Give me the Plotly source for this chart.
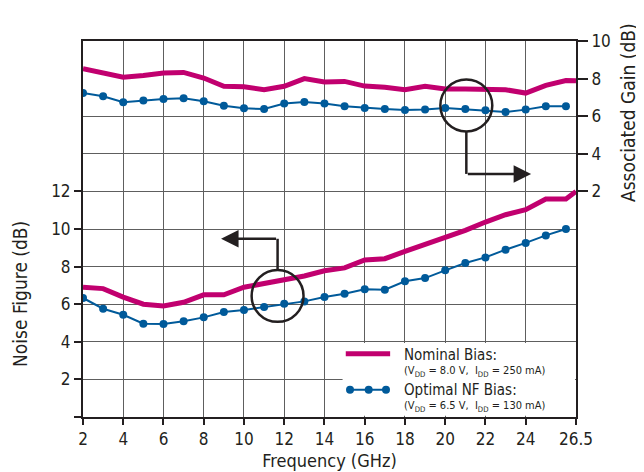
import plotly.graph_objects as go

# ---- data ----
freq = [2, 3, 4, 5, 6, 7, 8, 9, 10, 11, 12, 13, 14, 15, 16, 17, 18, 19, 20, 21, 22, 23, 24, 25, 26]
freq_nominal = freq + [26.5]

nf_nominal = [6.9, 6.83, 6.38, 6.0, 5.9, 6.1, 6.5, 6.5, 6.9, 7.1, 7.27, 7.5, 7.78, 7.93, 8.35,
              8.42, 8.81, 9.17, 9.52, 9.93, 10.37, 10.76, 11.03, 11.6, 11.6, 12.0]
nf_optimal = [6.33, 5.76, 5.44, 4.96, 4.95, 5.09, 5.3, 5.59, 5.69, 5.85, 6.03, 6.15, 6.38, 6.56,
              6.8, 6.77, 7.22, 7.39, 7.8, 8.19, 8.49, 8.9, 9.26, 9.66, 10.0]
gain_nominal = [8.53, 8.3, 8.07, 8.17, 8.3, 8.33, 8.03, 7.59, 7.57, 7.41, 7.59, 8.0, 7.82, 7.85,
                7.6, 7.54, 7.41, 7.59, 7.45, 7.45, 7.45, 7.41, 7.23, 7.64, 7.9, 7.89]
gain_optimal = [7.23, 7.06, 6.74, 6.84, 6.91, 6.95, 6.79, 6.56, 6.42, 6.38, 6.67, 6.76, 6.67, 6.53,
                6.44, 6.38, 6.33, 6.35, 6.44, 6.38, 6.31, 6.22, 6.35, 6.53, 6.53]

x_ticks = [2, 4, 6, 8, 10, 12, 14, 16, 18, 20, 22, 24, 26.5]
x_ticktext = ["2", "4", "6", "8", "10", "12", "14", "16", "18", "20", "22", "24", "26.5"]
nf_ticks = [0, 2, 4, 6, 8, 10, 12]
nf_ticktext = ["", "2", "4", "6", "8", "10", "12"]
gain_ticks = [2, 4, 6, 8, 10]

legend_names = ["Nominal Bias:", "Optimal NF Bias:"]
legend_notes = ["(V<sub>DD</sub> = 8.0 V,  I<sub>DD</sub> = 250 mA)",
                "(V<sub>DD</sub> = 6.5 V,  I<sub>DD</sub> = 130 mA)"]

PINK = "#c1006f"
BLUE = "#005a9a"
INK = "#231f20"
GRID = "#5e5e5e"
FONT = "Liberation Sans Narrow, DejaVu Sans Condensed, Arial Narrow, sans-serif"

fig = go.Figure()

fig.add_trace(go.Scatter(x=freq_nominal, y=nf_nominal, mode="lines",
                         line=dict(color=PINK, width=5), showlegend=False))
fig.add_trace(go.Scatter(x=freq, y=nf_optimal, mode="lines+markers",
                         line=dict(color=BLUE, width=2),
                         marker=dict(color=BLUE, size=8), showlegend=False))
fig.add_trace(go.Scatter(x=freq_nominal, y=gain_nominal, mode="lines", yaxis="y2",
                         line=dict(color=PINK, width=5), showlegend=False))
fig.add_trace(go.Scatter(x=freq, y=gain_optimal, mode="lines+markers", yaxis="y2",
                         line=dict(color=BLUE, width=2),
                         marker=dict(color=BLUE, size=8), showlegend=False))

shapes = []
# legend background box
shapes.append(dict(type="rect", xref="x", yref="y", x0=14.9, x1=26.45, y0=0.06, y1=3.93,
                   fillcolor="white", line=dict(width=0), layer="between"))
# legend glyphs
shapes.append(dict(type="line", xref="paper", yref="paper", x0=0.533, x1=0.623, y0=0.168, y1=0.168,
                   line=dict(color=PINK, width=5)))
shapes.append(dict(type="line", xref="paper", yref="paper", x0=0.5416, x1=0.6146, y0=0.0726, y1=0.0726,
                   line=dict(color=BLUE, width=2)))
for px in [0.5416, 0.5795, 0.6146]:
    shapes.append(dict(type="circle", xref="paper", yref="paper", xsizemode="pixel", ysizemode="pixel",
                       xanchor=px, yanchor=0.0726, x0=-4, x1=4, y0=-4, y1=4,
                       fillcolor=BLUE, line=dict(width=0)))
# callout circles
shapes.append(dict(type="circle", xref="x", yref="y", x0=21.05 - 1.29, x1=21.05 + 1.29,
                   y0=16.57 - 1.38, y1=16.57 + 1.38, line=dict(color=INK, width=2.5)))
shapes.append(dict(type="circle", xref="x", yref="y", x0=11.67 - 1.29, x1=11.67 + 1.29,
                   y0=6.44 - 1.38, y1=6.44 + 1.38, line=dict(color=INK, width=2.5)))
# callout leaders (vertical parts)
shapes.append(dict(type="line", xref="x", yref="y", x0=21.05, x1=21.05, y0=15.19, y1=12.93,
                   line=dict(color=INK, width=2.5)))
shapes.append(dict(type="line", xref="x", yref="y", x0=11.67, x1=11.67, y0=7.82, y1=9.48,
                   line=dict(color=INK, width=2.5)))

annotations = []
annotations.append(dict(x=24.27, y=12.93, ax=21.05, ay=12.93, xref="x", yref="y", axref="x", ayref="y",
                        text="", showarrow=True, arrowhead=2, arrowsize=1.4, arrowwidth=2.5,
                        arrowcolor=INK, standoff=0))
annotations.append(dict(x=8.86, y=9.48, ax=11.67, ay=9.48, xref="x", yref="y", axref="x", ayref="y",
                        text="", showarrow=True, arrowhead=2, arrowsize=1.4, arrowwidth=2.5,
                        arrowcolor=INK, standoff=0))
# legend text (one block per entry: name + bias note)
for name, note, ypos in zip(legend_names, legend_notes, [0.146, 0.052]):
    annotations.append(dict(x=0.647, y=ypos, xref="paper", yref="paper", xanchor="left", yanchor="middle",
                            align="left", showarrow=False,
                            text=f"<span style='font-size:15px'>{name}</span><br>{note}",
                            font=dict(family=FONT, size=11, color=INK)))
# axis titles
annotations.append(dict(x=-0.128, y=0.327, xref="paper", yref="paper", xanchor="center", yanchor="middle",
                        text="Noise Figure (dB)", textangle=-90, showarrow=False,
                        font=dict(family=FONT, size=19, color=INK)))
annotations.append(dict(x=1.1055, y=0.8085, xref="paper", yref="paper", xanchor="center", yanchor="middle",
                        text="Associated Gain (dB)", textangle=-90, showarrow=False,
                        font=dict(family=FONT, size=19, color=INK)))

fig.update_layout(
    width=644, height=472,
    margin=dict(l=75, r=76, t=33, b=63),
    paper_bgcolor="white", plot_bgcolor="white",
    font=dict(family=FONT, size=17, color=INK),
    showlegend=False,
    shapes=shapes,
    annotations=annotations,
    xaxis=dict(range=[2, 26.5], tickvals=x_ticks, ticktext=x_ticktext,
               ticks="outside", ticklen=6, tickwidth=1.5, tickcolor=INK,
               showgrid=True, gridcolor=GRID, gridwidth=1.3,
               showline=True, linecolor=INK, linewidth=2, mirror=True, zeroline=False,
               title=dict(text="Frequency (GHz)", font=dict(family=FONT, size=18, color=INK), standoff=6)),
    yaxis=dict(range=[0, 20], tickvals=nf_ticks, ticktext=nf_ticktext,
               ticks="outside", ticklen=7, tickwidth=1.5, tickcolor=INK,
               showgrid=True, gridcolor=GRID, gridwidth=1.3,
               minor=dict(tickvals=[14, 16], showgrid=True, gridcolor=GRID, gridwidth=1.3, ticks=""),
               showline=True, linecolor=INK, linewidth=2, mirror=True, zeroline=False),
    yaxis2=dict(range=[-10, 10], overlaying="y", side="right", tickvals=gain_ticks,
                ticks="outside", ticklen=10, tickwidth=1.5, tickcolor=INK,
                showgrid=False, zeroline=False, showline=True, linecolor=INK, linewidth=2),
)

fig.write_html("out.html")
